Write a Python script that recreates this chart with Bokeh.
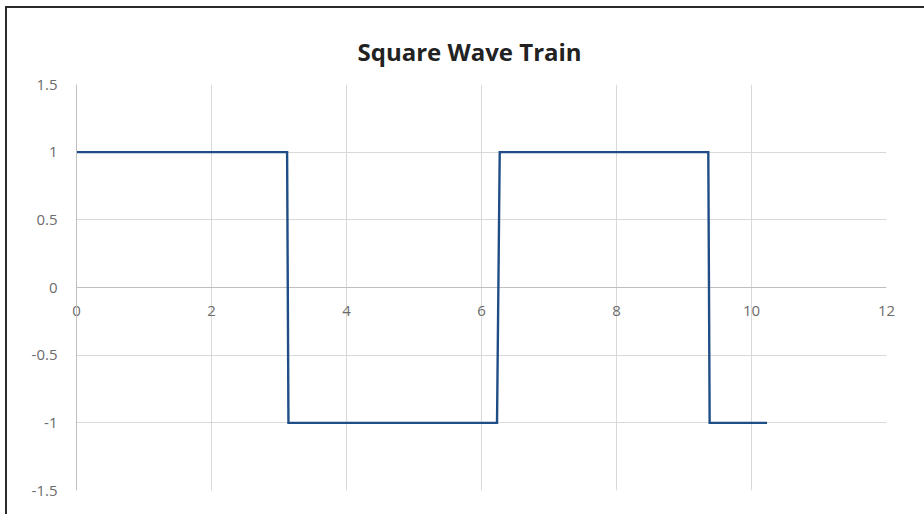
from bokeh.plotting import figure
from bokeh.models import Range1d, SingleIntervalTicker, Span, InlineStyleSheet
from bokeh.embed import file_html
from bokeh.resources import INLINE

# Square wave vertices (x, y)
wave_x = [0, 3.12, 3.14, 6.23, 6.27, 9.36, 9.38, 10.23]
wave_y = [1, 1, -1, -1, 1, 1, -1, -1]

# Axis ticks and their labels
y_ticks = [-1.5, -1, -0.5, 0, 0.5, 1, 1.5]
y_tick_labels = ["-1.5", "-1", "-0.5", "0", "0.5", "1", "1.5"]

TITLE = "Square Wave Train"
FONT = "Open Sans"
LABEL_COLOR = "#6b6b6b"
GRID_COLOR = "#d9d9d9"
AXIS_COLOR = "#bfbfbf"
LINE_COLOR = "#1f4e87"

# Sheet edge (top/left) and the light chart-area border, drawn around the canvas
frame_css = InlineStyleSheet(css="""
:host { position: relative; }
:host::before {
  content: ""; position: absolute; pointer-events: none;
  left: 15px; top: 15px; right: 5px; bottom: 1px;
  border: 2px solid #e3e3e3; box-sizing: border-box;
}
:host::after {
  content: ""; position: absolute; pointer-events: none;
  left: 5px; top: 6px; right: 0; bottom: 0;
  border-top: 2px solid #2b2b2b; border-left: 2px solid #2b2b2b;
  box-sizing: border-box;
}
""")

p = figure(
    width=924, height=514,
    x_range=Range1d(0, 12), y_range=Range1d(-1.5, 1.5),
    output_backend="svg", toolbar_location=None,
    min_border_left=76, min_border_right=38,
    min_border_top=84, min_border_bottom=24,
    background_fill_color="white", border_fill_color="white",
    outline_line_color=None,
    stylesheets=[frame_css],
)

# Title
p.title.text = TITLE
p.title.align = "left"
p.title.offset = 281
p.title.text_font = FONT
p.title.text_font_style = "bold"
p.title.text_font_size = "24px"
p.title.text_color = "#222222"
p.title.standoff = 33

# Horizontal axis: labels sit just under the y = 0 line
p.xaxis.ticker = SingleIntervalTicker(interval=2)
p.xaxis.axis_line_color = None
p.xaxis.major_tick_line_color = None
p.xaxis.minor_tick_line_color = None
p.xaxis.major_label_standoff = -191
p.xaxis.major_label_text_font = FONT
p.xaxis.major_label_text_font_size = "15px"
p.xaxis.major_label_text_color = LABEL_COLOR

p.yaxis.ticker = y_ticks
p.yaxis.major_label_overrides = {t: s for t, s in zip(y_ticks, y_tick_labels)}
p.yaxis.axis_line_color = AXIS_COLOR
p.yaxis.major_tick_line_color = None
p.yaxis.minor_tick_line_color = None
p.yaxis.major_label_standoff = 13
p.yaxis.major_label_text_font = FONT
p.yaxis.major_label_text_font_size = "15px"
p.yaxis.major_label_text_color = LABEL_COLOR

p.xgrid.ticker = SingleIntervalTicker(interval=2)
p.ygrid.ticker = y_ticks
for g in (p.xgrid, p.ygrid):
    g.grid_line_color = GRID_COLOR
    g.grid_line_width = 1

# Horizontal axis line at y = 0
p.add_layout(Span(location=0, dimension="width", line_color=AXIS_COLOR,
                  line_width=1, level="underlay"))

p.line(wave_x, wave_y, line_color=LINE_COLOR, line_width=2.4, line_join="miter")

open("out.html", "w").write(file_html(p, INLINE))
